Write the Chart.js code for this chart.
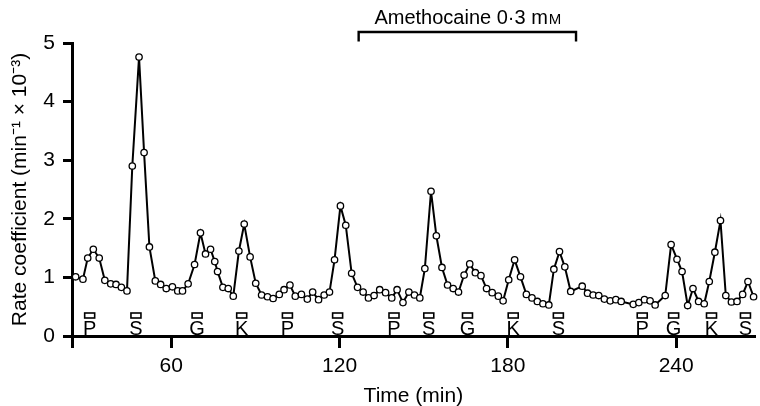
<!DOCTYPE html>
<html>
<head>
<meta charset="utf-8">
<script src="https://cdn.jsdelivr.net/npm/chart.js@4.4.1/dist/chart.umd.min.js"></script>
<style>
  html, body { margin: 0; padding: 0; background: #fff; }
  #wrap { width: 760px; height: 406px; }
</style>
</head>
<body>
<div id="wrap"><canvas id="graph" width="760" height="406"></canvas></div>
<script>
// time (min) of each sample and the rate coefficient
const times = [
  25.9, 28.5, 30.2, 32.2, 34.3, 36.3, 38.4, 40.3, 42.2, 44.2,
  46.1, 48.5, 50.3, 52.2, 54.3, 56.2, 58.2, 60.4, 62.3, 64.0,
  66.0, 68.3, 70.4, 72.2, 74.0, 75.5, 76.5, 78.4, 80.3, 82.1,
  84.1, 86.0, 88.1, 90.1, 92.2, 94.3, 96.3, 98.5, 100.2, 102.3,
  104.2, 106.4, 108.5, 110.4, 112.5, 114.5, 116.4, 118.2, 120.3, 122.2,
  124.3, 126.4, 128.4, 130.3, 132.3, 134.3, 136.4, 138.6, 140.5, 142.6,
  144.7, 146.7, 148.6, 150.4, 152.6, 154.5, 156.5, 158.5, 160.5, 162.4,
  164.4, 166.4, 168.4, 170.4, 172.4, 174.4, 176.6, 178.3, 180.3, 182.4,
  184.5, 186.6, 188.6, 190.5, 192.5, 194.6, 196.4, 198.4, 200.3, 202.4,
  206.5, 208.4, 210.4, 212.4, 214.4, 216.5, 218.5, 220.4, 224.7, 226.7,
  228.7, 230.7, 232.5, 236.1, 238.2, 240.3, 242.1, 244.1, 246.0, 248.0,
  250.0, 251.8, 253.8, 255.8, 257.7, 259.7, 261.7, 263.7, 265.6, 267.6
];
const rates = [
  1.01, 0.97, 1.33, 1.48, 1.33, 0.95, 0.89, 0.88, 0.83, 0.77,
  2.90, 4.76, 3.13, 1.52, 0.94, 0.88, 0.81, 0.84, 0.77, 0.77,
  0.89, 1.22, 1.76, 1.40, 1.48, 1.27, 1.10, 0.83, 0.81, 0.68,
  1.45, 1.91, 1.35, 0.90, 0.70, 0.67, 0.64, 0.71, 0.79, 0.87,
  0.68, 0.71, 0.63, 0.75, 0.62, 0.70, 0.75, 1.30, 2.22, 1.89,
  1.07, 0.83, 0.75, 0.65, 0.69, 0.79, 0.74, 0.65, 0.79, 0.57,
  0.75, 0.70, 0.65, 1.15, 2.47, 1.71, 1.17, 0.87, 0.81, 0.75,
  1.04, 1.23, 1.08, 1.03, 0.81, 0.74, 0.68, 0.60, 0.96, 1.30,
  1.01, 0.71, 0.65, 0.59, 0.55, 0.53, 1.14, 1.44, 1.18, 0.76,
  0.85, 0.73, 0.70, 0.69, 0.63, 0.60, 0.62, 0.59, 0.54, 0.57,
  0.62, 0.60, 0.53, 0.69, 1.56, 1.31, 1.10, 0.52, 0.81, 0.59,
  0.55, 0.93, 1.43, 1.97, 0.69, 0.58, 0.59, 0.71, 0.93, 0.67
];

// agonist applications marked under the trace
const markerLabels = ["P", "S", "G", "K", "P", "S", "P", "S", "G", "K", "S", "P", "G", "K", "S"];
const markerTimes = [30.9, 47.4, 69.2, 85.1, 101.4, 119.3, 139.4, 151.8, 165.6, 181.9, 198.0, 227.9, 239.1, 252.6, 264.7];

// amethocaine bath period
const drugLabel = "Amethocaine 0·3 m";
const drugUnitSmallCap = "M";
const drugStart = 126.8;
const drugEnd = 204.3;

const xTicks = [24.6, 60, 120, 180, 240];
const yTicks = [0, 1, 2, 3, 4, 5];

const fontFamily = "'Liberation Sans', Arial, Helvetica, sans-serif";

const points = times.map((t, i) => ({ x: t, y: rates[i] }));

// draws the little boxes + letters and the drug bracket
const annotations = {
  id: "annotations",
  afterDatasetsDraw(chart) {
    const ctx = chart.ctx;
    const xs = chart.scales.x;
    const area = chart.chartArea;
    ctx.save();

    ctx.strokeStyle = "#000";
    ctx.fillStyle = "#000";
    ctx.lineWidth = 1.6;
    ctx.font = "20px " + fontFamily;
    ctx.textAlign = "center";
    ctx.textBaseline = "alphabetic";
    for (let i = 0; i < markerTimes.length; i++) {
      const px = xs.getPixelForValue(markerTimes[i]);
      ctx.fillStyle = "#fff";
      ctx.fillRect(px - 5, area.bottom - 23, 10, 5);
      ctx.strokeRect(px - 5, area.bottom - 23, 10, 5);
      ctx.fillStyle = "#000";
      ctx.fillText(markerLabels[i], px, area.bottom - 1);
    }

    // bracket
    const x1 = xs.getPixelForValue(drugStart);
    const x2 = xs.getPixelForValue(drugEnd);
    const yb = area.top - 11;
    ctx.lineWidth = 2.4;
    ctx.beginPath();
    ctx.moveTo(x1, area.top - 1.5);
    ctx.lineTo(x1, yb);
    ctx.lineTo(x2, yb);
    ctx.lineTo(x2, area.top - 1.5);
    ctx.stroke();

    // label with small-cap M
    ctx.textAlign = "left";
    ctx.font = "20px " + fontFamily;
    const w1 = ctx.measureText(drugLabel).width;
    ctx.font = "15px " + fontFamily;
    const w2 = ctx.measureText(drugUnitSmallCap).width;
    const startX = (x1 + x2) / 2 - (w1 + w2) / 2;
    ctx.font = "20px " + fontFamily;
    ctx.fillText(drugLabel, startX, 24);
    ctx.font = "15px " + fontFamily;
    ctx.fillText(drugUnitSmallCap, startX + w1 + 1, 24);

    ctx.restore();
  }
};

new Chart(document.getElementById("graph"), {
  type: "line",
  data: {
    datasets: [{
      data: points,
      borderColor: "#000",
      borderWidth: 2,
      tension: 0,
      pointRadius: 3.2,
      pointBorderWidth: 1.3,
      pointBackgroundColor: "#fff",
      pointBorderColor: "#000",
      clip: false
    }]
  },
  options: {
    responsive: false,
    animation: false,
    events: [],
    layout: { padding: { top: 43, right: 0, left: 0, bottom: 0 } },
    plugins: {
      legend: { display: false },
      tooltip: { enabled: false }
    },
    scales: {
      x: {
        type: "linear",
        min: 24.6,
        max: 268,
        afterBuildTicks: (scale) => { scale.ticks = xTicks.map(v => ({ value: v })); },
        afterFit: (scale) => { scale.height = 70; },
        ticks: {
          color: "#000",
          font: { family: fontFamily, size: 21 },
          padding: 6,
          maxRotation: 0,
          autoSkip: false,
          callback: (v) => (v < 30 ? "" : String(v))
        },
        grid: { drawOnChartArea: false, tickLength: 12, lineWidth: 3, color: "#000" },
        border: { display: true, width: 3, color: "#000" },
        title: {
          display: true,
          text: "Time (min)",
          color: "#000",
          font: { family: fontFamily, size: 21 },
          padding: { top: 0, bottom: -3 }
        }
      },
      y: {
        min: 0,
        max: 5,
        afterBuildTicks: (scale) => { scale.ticks = yTicks.map(v => ({ value: v })); },
        afterFit: (scale) => { scale.width = 72; },
        ticks: {
          color: "#000",
          font: { family: fontFamily, size: 21 },
          padding: 8
        },
        grid: { drawOnChartArea: false, tickLength: 9, lineWidth: 3, color: "#000" },
        border: { display: true, width: 3, color: "#000" },
        title: {
          display: true,
          text: "Rate coefficient (min\u207B\u00B9 \u00D7 10\u207B\u00B3)",
          color: "#000",
          font: { family: fontFamily, size: 21 },
          padding: { top: 8, bottom: 0 }
        }
      }
    }
  },
  plugins: [annotations]
});
</script>
</body>
</html>
